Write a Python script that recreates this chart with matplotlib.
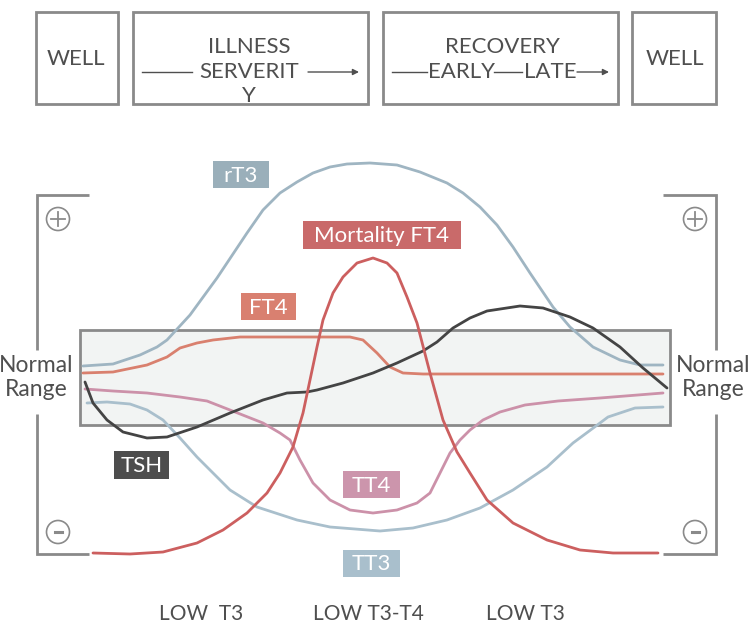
import matplotlib
matplotlib.use("Agg")
import matplotlib.pyplot as plt
from matplotlib.patches import Rectangle, Circle

plt.rcParams['font.family'] = ['Lato', 'DejaVu Sans']

# ---------------- data (pixel-space diagram coordinates) ----------------
rT3_x = [83, 113, 140, 157, 167, 190, 217, 247, 263, 280, 297, 313, 330, 347, 370, 397, 420, 447, 463, 480,
         497, 513, 530, 553, 570, 593, 620, 640, 663]
rT3_y = [366, 364, 355, 347, 340, 315, 278, 233, 210, 193, 182, 173, 167, 164, 163, 165, 172, 183, 193, 207,
         225, 247, 273, 307, 327, 347, 360, 365, 365]

FT4_x = [83, 113, 147, 167, 180, 197, 213, 240, 290, 350, 363, 377, 390, 403, 423, 663]
FT4_y = [373, 372, 365, 357, 348, 343, 340, 337, 337, 337, 340, 353, 367, 373, 374, 374]

mort_x = [93, 130, 163, 197, 223, 247, 267, 280, 293, 303, 317, 323, 333, 343, 357, 373, 387, 397, 407, 417,
          430, 443, 457, 470, 487, 513, 547, 580, 613, 658]
mort_y = [553, 554, 552, 543, 530, 513, 493, 473, 447, 413, 347, 320, 293, 277, 263, 258, 263, 273, 297, 323,
          373, 420, 452, 473, 500, 523, 540, 550, 553, 553]

TSH_x = [85, 93, 107, 123, 147, 167, 197, 230, 263, 287, 307, 317, 343, 373, 397, 423, 437, 453, 470, 487,
         520, 543, 570, 593, 620, 643, 667]
TSH_y = [382, 403, 420, 432, 438, 437, 427, 413, 400, 393, 392, 390, 383, 373, 363, 351, 342, 328, 318, 311,
         306, 308, 317, 328, 347, 368, 388]

TT4_x = [85, 113, 147, 180, 207, 230, 263, 280, 290, 300, 313, 330, 350, 373, 397, 417, 430, 440, 450, 460,
         470, 483, 500, 525, 558, 600, 663]
TT4_y = [389, 391, 393, 397, 401, 410, 423, 433, 440, 460, 483, 500, 510, 513, 510, 503, 493, 473, 453, 440,
         430, 420, 412, 405, 401, 398, 393]

TT3_x = [87, 107, 130, 147, 163, 180, 197, 213, 230, 257, 297, 330, 380, 413, 447, 480, 513, 547, 573, 600,
         608, 635, 663]
TT3_y = [403, 402, 404, 410, 420, 438, 457, 473, 490, 507, 520, 527, 531, 528, 520, 508, 490, 467, 443, 423,
         417, 408, 407]

stage_labels = ["WELL", "ILLNESS", "SERVERIT", "Y", "RECOVERY", "EARLY", "LATE", "WELL"]
phase_labels = ["LOW  T3", "LOW T3-T4", "LOW T3"]
series_labels = ["rT3", "Mortality FT4", "FT4", "TSH", "TT4", "TT3"]

# ---------------- drawing ----------------
fig = plt.figure(figsize=(7.5, 6.24), dpi=100)
ax = fig.add_axes([0, 0, 1, 1])
ax.set_xlim(0, 750)
ax.set_ylim(624, 0)
ax.axis('off')

GRAY = '#8a8a8a'
TXT = '#4f4f4f'
fs_big = 16

# stage boxes
for (x0, y0, x1, y1) in [(36, 12, 118, 104), (133, 12, 368, 104), (383, 12, 618, 104), (632, 12, 716, 104)]:
    ax.add_patch(Rectangle((x0, y0), x1 - x0, y1 - y0, fill=False, ec=GRAY, lw=2))

ax.text(76, 59, stage_labels[0], ha='center', va='center', fontsize=fs_big, color=TXT)
ax.text(249, 47, stage_labels[1], ha='center', va='center', fontsize=fs_big, color=TXT)
ax.text(249, 72, stage_labels[2], ha='center', va='center', fontsize=fs_big, color=TXT)
ax.text(249, 96, stage_labels[3], ha='center', va='center', fontsize=fs_big, color=TXT)
ax.text(502, 47, stage_labels[4], ha='center', va='center', fontsize=fs_big, color=TXT)
ax.text(461, 72, stage_labels[5], ha='center', va='center', fontsize=fs_big, color=TXT)
ax.text(550, 72, stage_labels[6], ha='center', va='center', fontsize=fs_big, color=TXT)
ax.text(675, 59, stage_labels[7], ha='center', va='center', fontsize=fs_big, color=TXT)

arrow_kw = dict(arrowstyle='-|>', color=TXT, lw=1, mutation_scale=9, shrinkA=0, shrinkB=0)
ax.plot([142, 192], [72, 72], color=TXT, lw=1)
ax.annotate('', xy=(359, 72), xytext=(308, 72), arrowprops=arrow_kw)
ax.plot([392, 427], [72, 72], color=TXT, lw=1)
ax.plot([494, 522], [72, 72], color=TXT, lw=1)
ax.annotate('', xy=(609, 72), xytext=(577, 72), arrowprops=arrow_kw)

# normal range box
ax.add_patch(Rectangle((80, 330), 590, 95, fc='#f2f4f3', ec=GRAY, lw=2, zorder=1))

# brackets
for xs, ys in [([89, 37, 37], [195, 195, 350]), ([89, 37, 37], [554, 554, 414]),
               ([663, 716, 716], [195, 195, 350]), ([663, 716, 716], [554, 554, 414])]:
    ax.plot(xs, ys, color=GRAY, lw=2, solid_capstyle='butt', solid_joinstyle='miter')

# plus / minus circles
for cx in (58, 695):
    ax.add_patch(Circle((cx, 219), 11.5, fill=False, ec=GRAY, lw=1.2))
    ax.plot([cx - 7, cx + 7], [219, 219], color=GRAY, lw=1.3)
    ax.plot([cx, cx], [212, 226], color=GRAY, lw=1.3)
    ax.add_patch(Circle((cx, 532), 11.5, fill=False, ec=GRAY, lw=1.2))
    ax.plot([cx - 3.5, cx + 3.5], [532, 532], color=GRAY, lw=2.2)

# Normal Range labels
for cx in (36, 713):
    ax.text(cx, 366, "Normal", ha='center', va='center', fontsize=16.5, color=TXT)
    ax.text(cx, 389, "Range", ha='center', va='center', fontsize=16.5, color=TXT)

# curves
lw = 2
kw = dict(lw=lw, solid_joinstyle='round', solid_capstyle='round')
ax.plot(rT3_x, rT3_y, color='#9fb5c2', zorder=3, **kw)
ax.plot(FT4_x, FT4_y, color='#d9806e', zorder=3, **kw)
ax.plot(TT3_x, TT3_y, color='#a9bfcc', zorder=3, **kw)
ax.plot(TT4_x, TT4_y, color='#cc91a9', zorder=3, **kw)
ax.plot(TSH_x, TSH_y, color='#444444', zorder=4, **kw)
ax.plot(mort_x, mort_y, color='#cc5f5f', zorder=4, **kw)

# label boxes
label_boxes = [
    (series_labels[0], 213, 161, 269, 188, '#9aafba'),
    (series_labels[1], 303, 221, 461, 249, '#c96a6a'),
    (series_labels[2], 241, 293, 296, 320, '#d98070'),
    (series_labels[3], 114, 451, 169, 479, '#4d4d4d'),
    (series_labels[4], 343, 471, 400, 498, '#cc95ac'),
    (series_labels[5], 343, 550, 400, 577, '#a9bfcc'),
]
for txt, x0, y0, x1, y1, c in label_boxes:
    ax.add_patch(Rectangle((x0, y0), x1 - x0, y1 - y0, fc=c, ec='none', zorder=5))
    ax.text((x0 + x1) / 2, (y0 + y1) / 2 + 1, txt, ha='center', va='center',
            fontsize=16, color='white', zorder=6)

# phase labels
for txt, cx in zip(phase_labels, [201, 368, 525]):
    ax.text(cx, 614, txt, ha='center', va='center', fontsize=15, color=TXT)

fig.savefig('out.png', dpi=100)
